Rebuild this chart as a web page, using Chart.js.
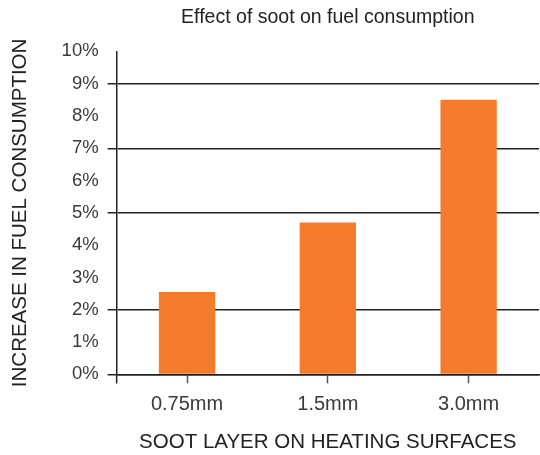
<!DOCTYPE html>
<html>
<head>
<meta charset="utf-8">
<script src="https://cdn.jsdelivr.net/npm/chart.js@4"></script>
<style>
  html, body { margin:0; padding:0; background:#fff; }
  #wrap { width:540px; height:455px; }
</style>
</head>
<body>
<div id="wrap"><canvas id="chart" width="540" height="455"></canvas></div>
<script>
// Soot chart

const categories = ['0.75mm', '1.5mm', '3.0mm'];
const increase = [2.55, 4.7, 8.5];
const yTicks = [0, 1, 2, 3, 4, 5, 6, 7, 8, 9, 10];
const gridAt = [0, 2, 5, 7, 9];

const ink = '#222';
const labelInk = '#3a3a3a';
const font = '"Liberation Sans", Arial, sans-serif';

// small extension of the y axis below zero, like the printed chart
const axisFoot = {
  id: 'axisFoot',
  afterDraw(c){
    const a = c.chartArea, ctx = c.ctx;
    ctx.save();
    ctx.strokeStyle = ink; ctx.lineWidth = 1.5;
    ctx.beginPath(); ctx.moveTo(a.left, a.bottom); ctx.lineTo(a.left, a.bottom + 9); ctx.stroke();
    ctx.restore();
  }
};

new Chart(document.getElementById('chart'), {
  type: 'bar',
  data: { labels: categories, datasets: [{ data: increase, backgroundColor: '#f47b2c', barPercentage: 0.4, categoryPercentage: 1.0 }] },
  plugins: [axisFoot],
  options: {
    responsive: false,
    animation: false,
    layout: { padding: { top: 4, right: 1, left: 0, bottom: 0 } },
    plugins: {
      legend: { display: false },
      tooltip: { enabled: false },
      title: { display: true, fullSize: false, text: 'Effect of soot on fuel consumption', color: ink,
        font: { family: font, size: 19.5, weight: 'normal' }, padding: { top: 2, bottom: 22 } }
    },
    scales: {
      x: {
        grid: { display: true, offset: false, drawOnChartArea: false, tickLength: 9, tickColor: '#555', tickWidth: 1.5 },
        border: { color: ink, width: 1.5 },
        ticks: { color: labelInk, font: { family: font, size: 20 }, padding: 9 },
        title: { display: true, text: 'SOOT LAYER ON HEATING SURFACES', color: ink,
          font: { family: font, size: 20.5 }, padding: { top: 5, bottom: 0 } }
      },
      y: {
        min: 0, max: 10,
        afterBuildTicks: s => { s.ticks = yTicks.map(v => ({ value: v })); },
        grid: {
          color: c => gridAt.includes(c.tick && c.tick.value) ? ink : 'rgba(0,0,0,0)',
          tickColor: c => gridAt.includes(c.tick && c.tick.value) ? ink : 'rgba(0,0,0,0)',
          lineWidth: 1.5, tickLength: 9
        },
        border: { color: ink, width: 1.5 },
        ticks: { color: labelInk, font: { family: font, size: 18.5 }, padding: 9, callback: v => v + '%' },
        title: { display: true, text: 'INCREASE IN FUEL CONSUMPTION', color: ink,
          font: { family: font, size: 20.5 }, padding: { top: 8, bottom: 20 } }
      }
    }
  }
});
</script>
</body>
</html>
